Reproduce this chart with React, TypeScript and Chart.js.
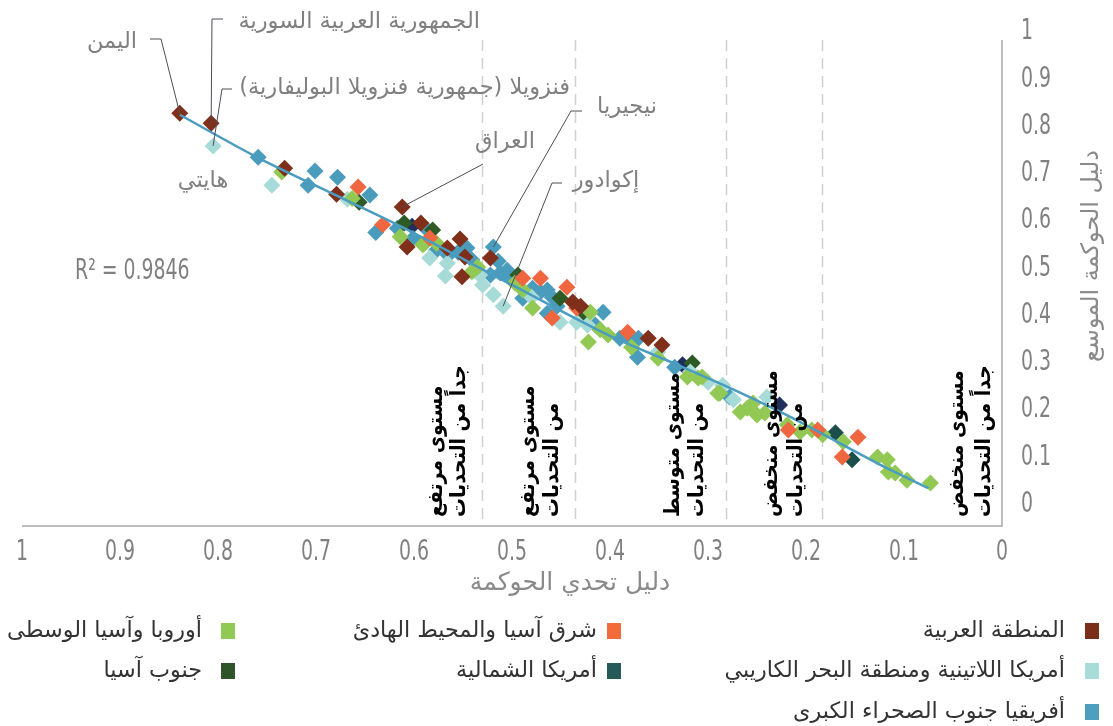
import React, { useEffect, useRef } from 'react';
import { Chart, registerables } from 'chart.js';

Chart.register(...registerables);

// ---------- DATA ----------
const arabRegion: number[][] = [
  [0.839, 0.828], [0.807, 0.807], [0.732, 0.712], [0.679, 0.657], [0.612, 0.630],
  [0.593, 0.596], [0.607, 0.545], [0.566, 0.543], [0.553, 0.562], [0.548, 0.524],
  [0.551, 0.482], [0.522, 0.522], [0.438, 0.429], [0.430, 0.420], [0.361, 0.352], [0.347, 0.338],
];
const eastAsiaPacific: number[][] = [
  [0.657, 0.672], [0.632, 0.592], [0.584, 0.564], [0.489, 0.479], [0.471, 0.479],
  [0.459, 0.395], [0.444, 0.460], [0.434, 0.416], [0.382, 0.365], [0.218, 0.158],
  [0.188, 0.158], [0.163, 0.101], [0.147, 0.143],
];
const europeCentralAsia: number[][] = [
  [0.735, 0.704], [0.663, 0.648], [0.614, 0.567], [0.591, 0.550], [0.589, 0.553],
  [0.577, 0.553], [0.541, 0.493], [0.535, 0.503], [0.497, 0.469], [0.489, 0.454],
  [0.479, 0.416], [0.420, 0.407], [0.410, 0.370], [0.422, 0.344], [0.402, 0.359],
  [0.378, 0.333], [0.351, 0.310], [0.321, 0.270], [0.310, 0.268], [0.306, 0.270],
  [0.290, 0.236], [0.288, 0.236], [0.267, 0.196], [0.260, 0.204], [0.254, 0.215],
  [0.250, 0.190], [0.242, 0.194], [0.219, 0.169], [0.206, 0.154], [0.194, 0.158],
  [0.183, 0.148], [0.162, 0.133], [0.127, 0.101], [0.117, 0.095], [0.116, 0.069],
  [0.109, 0.067], [0.097, 0.052], [0.073, 0.046],
];
const latinAmericaCaribbean: number[][] = [
  [0.805, 0.759], [0.745, 0.676], [0.668, 0.646], [0.584, 0.522], [0.566, 0.511],
  [0.568, 0.484], [0.533, 0.486], [0.530, 0.465], [0.519, 0.444], [0.509, 0.420],
  [0.480, 0.439], [0.451, 0.386], [0.434, 0.386], [0.423, 0.380], [0.351, 0.323],
  [0.318, 0.281], [0.300, 0.259], [0.285, 0.253], [0.274, 0.222], [0.240, 0.228],
];
const northAmerica: number[][] = [[0.170, 0.152], [0.153, 0.095]];
const southAsia: number[][] = [
  [0.656, 0.640], [0.610, 0.596], [0.581, 0.581], [0.494, 0.486], [0.451, 0.437],
  [0.426, 0.401], [0.316, 0.300],
];
const subSaharanAfrica: number[][] = [
  [0.759, 0.735], [0.701, 0.706], [0.708, 0.676], [0.678, 0.693], [0.645, 0.655],
  [0.639, 0.576], [0.617, 0.585], [0.587, 0.583], [0.601, 0.563], [0.577, 0.539],
  [0.565, 0.528], [0.555, 0.534], [0.546, 0.543], [0.541, 0.518], [0.519, 0.545],
  [0.514, 0.515], [0.522, 0.486], [0.512, 0.490], [0.505, 0.496], [0.502, 0.479],
  [0.489, 0.437], [0.479, 0.458], [0.471, 0.450], [0.464, 0.454], [0.459, 0.439],
  [0.464, 0.405], [0.454, 0.420], [0.407, 0.407], [0.415, 0.380], [0.390, 0.352],
  [0.380, 0.354], [0.371, 0.352], [0.372, 0.312], [0.334, 0.291], [0.278, 0.228],
];
const otherPoints: number[][] = [[0.602, 0.589], [0.326, 0.296], [0.227, 0.211]];

const trendX = [0.839, 0.76, 0.68, 0.61, 0.5, 0.4, 0.33, 0.27, 0.22, 0.17, 0.12, 0.075];
const trendY = [0.825, 0.735, 0.655, 0.585, 0.465, 0.357, 0.295, 0.24, 0.19, 0.135, 0.08, 0.035];

const xTicks = [1, 0.9, 0.8, 0.7, 0.6, 0.5, 0.4, 0.3, 0.2, 0.1, 0];
const xTickLabels = ['1', '0.9', '0.8', '0.7', '0.6', '0.5', '0.4', '0.3', '0.2', '0.1', '0'];
const yTicks = [1, 0.9, 0.8, 0.7, 0.6, 0.5, 0.4, 0.3, 0.2, 0.1, 0];
const yTickLabels = ['1', '0.9', '0.8', '0.7', '0.6', '0.5', '0.4', '0.3', '0.2', '0.1', '0'];

const bandEdges = [0.531, 0.436, 0.282, 0.184];
const bandLine1 = ['مستوى مرتفع', 'مستوى مرتفع', 'مستوى متوسط', 'مستوى منخفض', 'مستوى منخفض'];
const bandLine2 = ['جداً من التحديات', 'من التحديات', 'من التحديات', 'من التحديات', 'جداً من التحديات'];

const xTitle = 'دليل تحدي الحوكمة';
const yTitle = 'دليل الحوكمة الموسع';
const rSquared = 'R² = 0.9846';

const seriesNames = [
  'المنطقة العربية', 'شرق آسيا والمحيط الهادئ', 'أوروبا وآسيا الوسطى',
  'أمريكا اللاتينية ومنطقة البحر الكاريبي', 'أمريكا الشمالية', 'جنوب آسيا',
  'أفريقيا جنوب الصحراء الكبرى',
];
const seriesColors = ['#80301a', '#ef6640', '#92c955', '#a7dbd8', '#1a4f4c', '#2e5a25', '#4a9cbd'];
const legendColors = ['#7b2f1b', '#f26b3a', '#92c854', '#a8dcd8', '#265a58', '#30552a', '#4c9fbe'];

const annotNames = ['اليمن', 'الجمهورية العربية السورية', 'فنزويلا (جمهورية فنزويلا البوليفارية)', 'هايتي', 'العراق', 'نيجيريا', 'إكوادور'];
const annotPoints: (number[] | null)[] = [[0.839, 0.828], [0.807, 0.807], [0.805, 0.759], null, [0.612, 0.630], [0.519, 0.545], [0.509, 0.420]];

// ---------- LAYOUT / STYLE ----------
const ARABIC = '"DejaVu Sans", sans-serif';
const ARABIC_C = '"DejaVu Sans Condensed", "DejaVu Sans", sans-serif';
const NUM = '"DejaVu Sans Condensed", "DejaVu Sans", sans-serif';
const GRAY = '#808080';

const annotLayout: { x: number; y: number; align: CanvasTextAlign; path: number[][] }[] = [
  { x: 112, y: 42, align: 'center', path: [[150, 39], [161, 39]] },
  { x: 480, y: 22, align: 'right', path: [[223, 19], [212, 19]] },
  { x: 570, y: 88, align: 'right', path: [[232, 89], [222, 89]] },
  { x: 203, y: 181, align: 'center', path: [] },
  { x: 505, y: 142, align: 'center', path: [[483, 164]] },
  { x: 627, y: 107, align: 'center', path: [[582, 111], [571, 111]] },
  { x: 606, y: 181, align: 'center', path: [[562, 183], [552, 183]] },
];
const bandCols = [[437, 460], [529, 553], [674, 698], [772, 797], [958, 985]];
const legendCells = [
  { col: 0, row: 0 }, { col: 1, row: 0 }, { col: 2, row: 0 },
  { col: 0, row: 1 }, { col: 1, row: 1 }, { col: 2, row: 1 },
  { col: 0, row: 2 },
];
const legendTextRight = [1065, 597, 202];
const legendSquareLeft = [1085, 607, 221];
const legendRowY = [631, 671, 712];

const toXY = (arr: number[][]) => arr.map(([x, y]) => ({ x, y }));

function narrowText(ctx: CanvasRenderingContext2D, t: string, x: number, y: number) {
  ctx.save();
  ctx.translate(x, y);
  ctx.scale(0.75, 1);
  ctx.fillText(t, 0, 0);
  ctx.restore();
}

const overlayPlugin = {
  id: 'overlay',
  beforeDatasetsDraw(chart: any) {
    const { ctx, chartArea } = chart;
    const xs = chart.scales.x;
    const ys = chart.scales.y;
    const top = ys.getPixelForValue(0.983);
    ctx.save();
    ctx.strokeStyle = '#d0d0d0';
    ctx.lineWidth = 1.5;
    ctx.setLineDash([11, 7]);
    for (const v of bandEdges) {
      const px = Math.round(xs.getPixelForValue(v)) + 0.5;
      ctx.beginPath();
      ctx.moveTo(px, top);
      ctx.lineTo(px, chartArea.bottom);
      ctx.stroke();
    }
    ctx.setLineDash([]);
    ctx.strokeStyle = '#a9a9a9';
    ctx.lineWidth = 1.5;
    ctx.beginPath();
    ctx.moveTo(chartArea.left, chartArea.bottom);
    ctx.lineTo(chartArea.right, chartArea.bottom);
    ctx.lineTo(chartArea.right, top);
    ctx.stroke();

    // ticks
    ctx.fillStyle = GRAY;
    ctx.font = `28px ${NUM}`;
    ctx.textBaseline = 'middle';
    ctx.textAlign = 'center';
    xTicks.forEach((v, i) => narrowText(ctx, xTickLabels[i], xs.getPixelForValue(v), 553));
    ctx.textAlign = 'left';
    yTicks.forEach((v, i) => narrowText(ctx, yTickLabels[i], 1021, ys.getPixelForValue(v)));

    // titles
    ctx.direction = 'rtl';
    ctx.textAlign = 'center';
    ctx.fillStyle = '#8a8a8a';
    ctx.font = `25px ${ARABIC}`;
    ctx.fillText(xTitle, 570, 583);
    ctx.font = `24px ${ARABIC}`;
    ctx.save();
    ctx.translate(1092, 256);
    ctx.rotate(-Math.PI / 2);
    ctx.fillText(yTitle, 0, 0);
    ctx.restore();

    // R2
    ctx.direction = 'ltr';
    ctx.font = `28px ${NUM}`;
    ctx.textAlign = 'left';
    ctx.fillStyle = GRAY;
    narrowText(ctx, rSquared, 75, 272);

    // legend
    ctx.font = `22.3px ${ARABIC}`;
    ctx.direction = 'rtl';
    ctx.textAlign = 'right';
    seriesNames.forEach((name, i) => {
      const c = legendCells[i];
      const y = legendRowY[c.row];
      ctx.fillStyle = legendColors[i];
      ctx.fillRect(legendSquareLeft[c.col], y - 8, 14, 16);
      ctx.fillStyle = '#333333';
      ctx.fillText(name, legendTextRight[c.col], y);
    });
    ctx.restore();
  },
  afterDatasetsDraw(chart: any) {
    const { ctx } = chart;
    const xs = chart.scales.x;
    const ys = chart.scales.y;
    ctx.save();
    ctx.strokeStyle = '#4a4f55';
    ctx.lineWidth = 1;
    annotNames.forEach((_, i) => {
      const p = annotPoints[i];
      const L = annotLayout[i];
      if (!p || L.path.length === 0) return;
      ctx.beginPath();
      ctx.moveTo(L.path[0][0], L.path[0][1]);
      for (let k = 1; k < L.path.length; k++) ctx.lineTo(L.path[k][0], L.path[k][1]);
      ctx.lineTo(xs.getPixelForValue(p[0]), ys.getPixelForValue(p[1]));
      ctx.stroke();
    });
    ctx.font = `22.5px ${ARABIC}`;
    ctx.direction = 'rtl';
    ctx.textBaseline = 'middle';
    ctx.fillStyle = GRAY;
    annotNames.forEach((name, i) => {
      const L = annotLayout[i];
      ctx.textAlign = L.align;
      ctx.fillText(name, L.x, L.y);
    });
    ctx.fillStyle = '#000000';
    ctx.font = `bold 21px ${ARABIC_C}`;
    ctx.textAlign = 'left';
    ctx.direction = 'ltr';
    bandCols.forEach((cols, i) => {
      [bandLine1[i], bandLine2[i]].forEach((t, k) => {
        ctx.save();
        ctx.translate(cols[k], 517);
        ctx.rotate(-Math.PI / 2);
        ctx.fillText(t, 0, 0);
        ctx.restore();
      });
    });
    ctx.restore();
  },
};

export default function App() {
  const ref = useRef<HTMLCanvasElement>(null);
  useEffect(() => {
    document.body.style.margin = '0';
    const series = [arabRegion, eastAsiaPacific, europeCentralAsia, latinAmericaCaribbean, northAmerica, southAsia, subSaharanAfrica];
    const datasets: any[] = [
      {
        type: 'line',
        label: 'trend',
        data: trendX.map((x, i) => ({ x, y: trendY[i] })),
        borderColor: '#4a9cc0',
        borderWidth: 2.5,
        pointRadius: 0,
        tension: 0.3,
        fill: false,
      },
    ];
    series.forEach((s, i) => {
      datasets.push({
        type: 'scatter',
        label: seriesNames[i],
        data: toXY(s),
        backgroundColor: seriesColors[i],
        borderWidth: 0,
        pointStyle: 'rectRot',
        pointRadius: 8.5,
      });
    });
    datasets.push({
      type: 'scatter',
      label: 'other',
      data: toXY(otherPoints),
      backgroundColor: '#1e2f5c',
      borderWidth: 0,
      pointStyle: 'rectRot',
      pointRadius: 8.5,
    });
    const chart = new Chart(ref.current!, {
      type: 'scatter',
      data: { datasets },
      options: {
        responsive: false,
        animation: false,
        events: [],
        layout: { padding: { left: 22, right: 111, top: 32, bottom: 200 } },
        scales: {
          x: { type: 'linear', min: 0, max: 1, reverse: true, display: false },
          y: { type: 'linear', min: -0.045, max: 1, display: false },
        },
        plugins: { legend: { display: false }, tooltip: { enabled: false } },
      },
      plugins: [overlayPlugin],
    } as any);
    return () => chart.destroy();
  }, []);
  return (
    <div style={{ width: 1113, height: 726 }}>
      <canvas ref={ref} width={1113} height={726} style={{ display: 'block' }} />
    </div>
  );
}
